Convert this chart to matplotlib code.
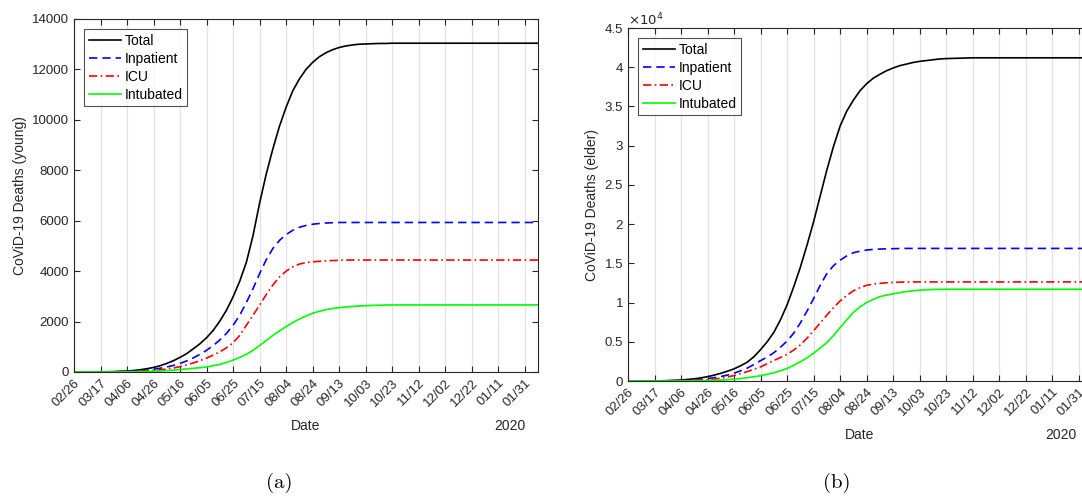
import numpy as np
import matplotlib
matplotlib.use("Agg")
import matplotlib.pyplot as plt

plt.rcParams['font.family'] = ['Liberation Sans', 'DejaVu Sans']

# days since 02/26 (finer steps through the growth phase)
days = [0, 10, 20, 30] + list(range(40, 241, 5)) + list(range(250, 351, 10))

tick_days = list(range(0, 341, 20))
tick_labels = ['02/26', '03/17', '04/06', '04/26', '05/16', '06/05', '06/25', '07/15',
               '08/04', '08/24', '09/13', '10/03', '10/23', '11/12', '12/02', '12/22',
               '01/11', '01/31']

# young population, deaths in thousands
young_total = [0, 0, 0.005, 0.015,
               0.04, 0.06, 0.09, 0.13, 0.18, 0.25, 0.34, 0.45, 0.58, 0.73, 0.92, 1.12,
               1.36, 1.65, 2.02, 2.45, 2.98, 3.6, 4.35, 5.4, 6.7, 7.85, 8.85, 9.75, 10.5,
               11.15, 11.62, 12.0, 12.28, 12.5, 12.66, 12.78, 12.87, 12.93, 12.97, 13.0,
               13.01, 13.02, 13.03, 13.03, 13.04,
               13.04, 13.04, 13.04, 13.04, 13.04, 13.04, 13.04, 13.04, 13.04, 13.04, 13.04]
young_inpatient = [0, 0, 0.003, 0.01,
                   0.025, 0.035, 0.05, 0.07, 0.11, 0.15, 0.2, 0.26, 0.34, 0.44, 0.56, 0.7,
                   0.86, 1.05, 1.27, 1.53, 1.85, 2.25, 2.75, 3.3, 3.9, 4.45, 4.9, 5.22, 5.45,
                   5.62, 5.74, 5.81, 5.86, 5.89, 5.91, 5.92, 5.93, 5.93, 5.93, 5.93, 5.93,
                   5.93, 5.93, 5.93, 5.93,
                   5.93, 5.93, 5.93, 5.93, 5.93, 5.93, 5.93, 5.93, 5.93, 5.93, 5.93]
young_icu = [0, 0, 0.002, 0.006,
             0.015, 0.02, 0.03, 0.045, 0.065, 0.09, 0.12, 0.16, 0.21, 0.28, 0.36, 0.45,
             0.55, 0.67, 0.8, 0.96, 1.16, 1.45, 1.85, 2.25, 2.65, 3.07, 3.45, 3.77, 4.0,
             4.17, 4.28, 4.34, 4.37, 4.39, 4.41, 4.42, 4.43, 4.44, 4.44, 4.44, 4.44, 4.44,
             4.44, 4.44, 4.44,
             4.44, 4.44, 4.44, 4.44, 4.44, 4.44, 4.44, 4.44, 4.44, 4.44, 4.44]
young_intubated = [0, 0, 0.001, 0.002,
                   0.005, 0.01, 0.015, 0.02, 0.03, 0.04, 0.055, 0.075, 0.1, 0.12, 0.145,
                   0.17, 0.2, 0.25, 0.3, 0.38, 0.47, 0.58, 0.7, 0.86, 1.05, 1.25, 1.45, 1.63,
                   1.8, 1.96, 2.1, 2.22, 2.33, 2.41, 2.47, 2.52, 2.55, 2.58, 2.6, 2.62, 2.63,
                   2.64, 2.65, 2.655, 2.66,
                   2.66, 2.66, 2.66, 2.66, 2.66, 2.66, 2.66, 2.66, 2.66, 2.66, 2.66]

# elder population, deaths in thousands
elder_total = [0, 0, 0.01, 0.05,
               0.13, 0.2, 0.28, 0.4, 0.55, 0.75, 0.98, 1.25, 1.55, 1.95, 2.4, 3.1, 4.0,
               5.0, 6.2, 7.8, 9.7, 12.0, 14.5, 17.3, 20.3, 23.6, 26.9, 29.9, 32.5, 34.4,
               35.8, 37.0, 37.9, 38.6, 39.1, 39.55, 39.9, 40.2, 40.4, 40.6, 40.75, 40.85,
               40.95, 41.05, 41.1,
               41.15, 41.2, 41.2, 41.2, 41.2, 41.2, 41.2, 41.2, 41.2, 41.2, 41.2]
elder_inpatient = [0, 0, 0.005, 0.02,
                   0.05, 0.08, 0.13, 0.2, 0.3, 0.42, 0.57, 0.75, 1.0, 1.3, 1.65, 2.1, 2.6,
                   3.05, 3.6, 4.3, 5.1, 6.1, 7.4, 8.9, 10.5, 12.2, 13.7, 14.7, 15.4, 15.95,
                   16.35, 16.55, 16.7, 16.77, 16.82, 16.85, 16.87, 16.89, 16.9, 16.9, 16.9,
                   16.9, 16.9, 16.9, 16.9,
                   16.9, 16.9, 16.9, 16.9, 16.9, 16.9, 16.9, 16.9, 16.9, 16.9, 16.9]
elder_icu = [0, 0, 0.003, 0.012,
             0.03, 0.05, 0.08, 0.12, 0.17, 0.25, 0.36, 0.5, 0.7, 0.95, 1.2, 1.5, 1.8, 2.2,
             2.6, 3.0, 3.4, 3.95, 4.6, 5.45, 6.4, 7.4, 8.4, 9.35, 10.2, 10.9, 11.5, 11.9,
             12.2, 12.35, 12.45, 12.52, 12.57, 12.6, 12.62, 12.63, 12.63, 12.63, 12.63,
             12.63, 12.63,
             12.63, 12.63, 12.63, 12.63, 12.63, 12.63, 12.63, 12.63, 12.63, 12.63, 12.63]
elder_intubated = [0, 0, 0.001, 0.004,
                   0.01, 0.015, 0.025, 0.035, 0.05, 0.08, 0.12, 0.17, 0.24, 0.32, 0.42,
                   0.54, 0.68, 0.85, 1.05, 1.3, 1.6, 2.0, 2.45, 2.95, 3.55, 4.2, 4.9, 5.8,
                   6.8, 7.8, 8.75, 9.45, 10.0, 10.4, 10.75, 10.95, 11.1, 11.27, 11.4, 11.5,
                   11.58, 11.63, 11.66, 11.68, 11.7,
                   11.7, 11.7, 11.7, 11.7, 11.7, 11.7, 11.7, 11.7, 11.7, 11.7, 11.7]

W, H = 1082, 496
fig = plt.figure(figsize=(W / 100, H / 100), dpi=100)
ax_a = fig.add_axes([74 / W, 1 - 372 / H, 464 / W, 353 / H])
ax_b = fig.add_axes([628 / W, 1 - 381 / H, 464 / W, 353 / H])

axis_col = '#262626'


def draw(ax, total, inpatient, icu, intubated, scale):
    d = np.array(days)
    ax.plot(d, np.array(total) * scale, color='black', lw=1.2, label='Total')
    ax.plot(d, np.array(inpatient) * scale, color='blue', lw=1.2,
            linestyle=(0, (5, 3)), label='Inpatient')
    ax.plot(d, np.array(icu) * scale, color='red', lw=1.2,
            linestyle=(0, (5, 2, 1, 2)), label='ICU')
    ax.plot(d, np.array(intubated) * scale, color='#00ff00', lw=1.2, label='Intubated')
    ax.set_xlim(0, 350)
    ax.set_xticks(tick_days)
    ax.set_xticklabels(tick_labels, rotation=45, ha='right', rotation_mode='anchor')
    ax.grid(axis='x', color='#e3e3e3', lw=0.9)
    ax.set_axisbelow(True)
    ax.tick_params(direction='in', top=True, right=True, length=4, width=0.8,
                   colors=axis_col, labelsize=9.5)
    for s in ax.spines.values():
        s.set_color(axis_col)
        s.set_linewidth(0.8)
    ax.set_xlabel('Date', fontsize=10, color=axis_col, labelpad=7)
    leg = ax.legend(loc='upper left', fontsize=10, frameon=True, fancybox=False,
                    handlelength=2.3, handletextpad=0.3, borderpad=0.3,
                    labelspacing=0.3, borderaxespad=0.75)
    leg.get_frame().set_edgecolor(axis_col)
    leg.get_frame().set_linewidth(0.8)


draw(ax_a, young_total, young_inpatient, young_icu, young_intubated, 1000)
ax_a.set_ylim(0, 14000)
ax_a.set_yticks(range(0, 14001, 2000))
ax_a.set_ylabel('CoViD-19 Deaths (young)', fontsize=10, color=axis_col)
ax_a.text(0.94, -0.153, '2020', transform=ax_a.transAxes, ha='center', va='center',
          fontsize=10, color=axis_col)

# elder axis is shown in units of 10^4
draw(ax_b, elder_total, elder_inpatient, elder_icu, elder_intubated, 0.1)
ax_b.set_ylim(0, 4.5)
yt = np.arange(0, 4.51, 0.5)
ax_b.set_yticks(yt)
ax_b.set_yticklabels(['%g' % v for v in yt])
ax_b.set_ylabel('CoViD-19 Deaths (elder)', fontsize=10, color=axis_col)
ax_b.text(0.933, -0.153, '2020', transform=ax_b.transAxes, ha='center', va='center',
          fontsize=10, color=axis_col)
ax_b.text(0.0, 1.022, r'$\times10^{4}$', transform=ax_b.transAxes, ha='left', va='center',
          fontsize=9.5, color=axis_col)

fig.text(279 / W, 1 - 483 / H, '(a)', ha='center', va='center', fontsize=15,
         family=['cmr10', 'DejaVu Serif'])
fig.text(837 / W, 1 - 483 / H, '(b)', ha='center', va='center', fontsize=15,
         family=['cmr10', 'DejaVu Serif'])

fig.savefig('out.png', dpi=100)
